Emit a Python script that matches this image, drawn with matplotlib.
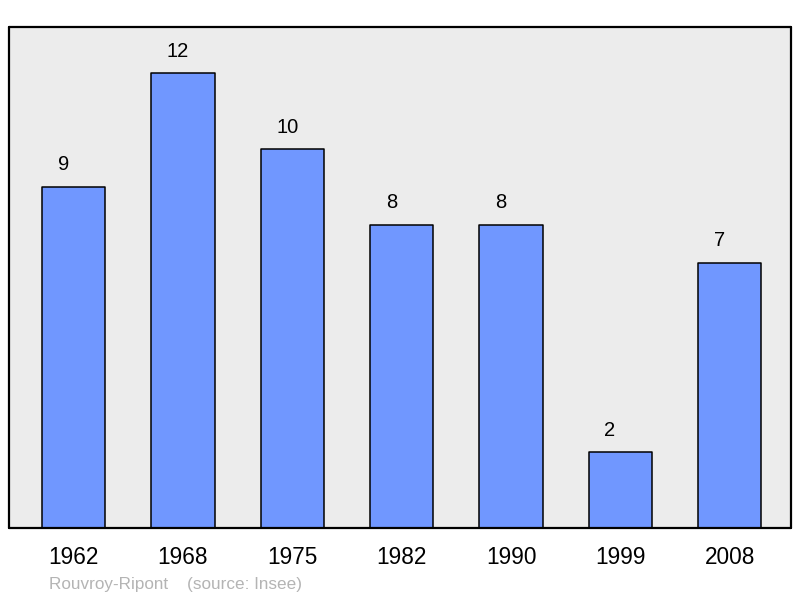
import matplotlib.pyplot as plt

plt.rcParams['font.family'] = ['Liberation Sans', 'DejaVu Sans']

years = ['1962', '1968', '1975', '1982', '1990', '1999', '2008']
values = [9, 12, 10, 8, 8, 2, 7]

fig = plt.figure(figsize=(8, 5.98), dpi=100)
ax = fig.add_axes([9/800, 70/598, 782/800, 501/598])
ax.set_facecolor('#ececec')

x = list(range(len(years)))
ax.bar(x, values, width=0.58, color='#7097ff', edgecolor='black',
       linewidth=1.1, joinstyle='round')

# labels sit a bit left of the bar centre, like the original
for xi, v in zip(x, values):
    ax.annotate(str(v), (xi, v), xytext=(-11.5, 9), textcoords='offset points',
                ha='left', va='bottom', fontsize=14.5)

ax.set_xlim(-0.59, 6.56)
ax.set_ylim(0, 13.22)
ax.set_yticks([])
ax.set_xticks(x)
ax.set_xticklabels(years, fontsize=16.3)
ax.tick_params(axis='x', length=0, pad=13)
for s in ax.spines.values():
    s.set_linewidth(1.6)
    s.set_capstyle('round')

fig.text(49/800, 1 - 584/598, 'Rouvroy-Ripont    (source: Insee)',
         fontsize=12.3, color='#b4b4b4', va='center', ha='left')

fig.savefig('out.png', dpi=100)
